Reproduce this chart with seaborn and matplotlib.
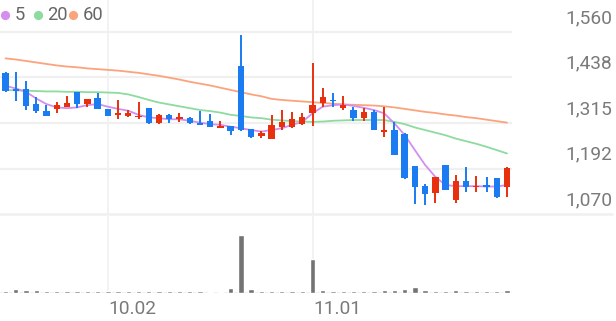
import numpy as np
import pandas as pd
import matplotlib
matplotlib.use("Agg")
import matplotlib.pyplot as plt
from matplotlib.transforms import IdentityTransform
import seaborn as sns

# ---------------- data ----------------
dates = ["09.12", "09.13", "09.19", "09.20", "09.23", "09.24", "09.25", "09.26", "09.27", "09.30",
         "10.02", "10.04", "10.07", "10.08", "10.10", "10.11", "10.14", "10.15", "10.16", "10.17",
         "10.18", "10.21", "10.22", "10.23", "10.24", "10.25", "10.28", "10.29", "10.30", "10.31",
         "11.01", "11.04", "11.05", "11.06", "11.07", "11.08", "11.11", "11.12", "11.13", "11.14",
         "11.15", "11.18", "11.19", "11.20", "11.21", "11.22", "11.25", "11.26", "11.27", "11.28"]
opens = [1450, 1406, 1406, 1366, 1348, 1352, 1359, 1398, 1366, 1382,
         1354, 1336, 1334, 1330, 1355, 1314, 1337, 1327, 1328, 1316,
         1320, 1302, 1307, 1468, 1298, 1280, 1272, 1305, 1303, 1311,
         1341, 1368, 1378, 1355, 1350, 1328, 1344, 1292, 1296, 1285,
         1199, 1145, 1126, 1202, 1108, 1159, 1143, 1148, 1166, 1144]
closes = [1402, 1402, 1361, 1347, 1335, 1364, 1370, 1366, 1380, 1354,
          1334, 1343, 1343, 1334, 1314, 1337, 1325, 1332, 1314, 1309,
          1305, 1307, 1294, 1296, 1276, 1289, 1310, 1318, 1325, 1332,
          1363, 1386, 1374, 1363, 1329, 1344, 1296, 1296, 1229, 1166,
          1143, 1124, 1169, 1135, 1160, 1143, 1146, 1143, 1115, 1195]
highs = [1452, 1453, 1428, 1386, 1363, 1372, 1389, 1398, 1380, 1395,
         1354, 1377, 1350, 1372, 1356, 1339, 1338, 1343, 1330, 1348,
         1338, 1320, 1307, 1552, 1298, 1293, 1337, 1350, 1344, 1343,
         1476, 1409, 1397, 1389, 1359, 1355, 1350, 1359, 1318, 1287,
         1199, 1151, 1170, 1202, 1175, 1196, 1172, 1169, 1167, 1196]
lows = [1398, 1375, 1350, 1341, 1333, 1341, 1359, 1355, 1359, 1354,
        1333, 1325, 1330, 1325, 1313, 1312, 1314, 1318, 1313, 1309,
        1303, 1302, 1283, 1294, 1275, 1274, 1272, 1296, 1301, 1310,
        1308, 1359, 1359, 1350, 1320, 1320, 1296, 1278, 1229, 1165,
        1097, 1094, 1100, 1135, 1099, 1130, 1130, 1130, 1112, 1117]
volumes = [6, 11, 8, 8, 5, 5, 5, 5, 5, 5,
           5, 5, 5, 5, 5, 5, 5, 5, 5, 7,
           4, 4, 14, 171, 11, 6, 6, 6, 6, 6,
           102, 8, 5, 5, 5, 6, 7, 10, 10, 13,
           18, 9, 6, 6, 9, 6, 6, 5, 6, 8]
ma5 = [1415, 1408, 1399, 1381, 1366, 1357, 1355, 1357, 1363, 1366,
       1359, 1353, 1348, 1337, 1330, 1328, 1325, 1325, 1321, 1316,
       1312, 1310, 1305, 1301, 1296, 1292, 1296, 1301, 1310, 1318,
       1341, 1359, 1363, 1365, 1361, 1356, 1350, 1341, 1314, 1283,
       1242, 1202, 1170, 1148, 1145, 1145, 1145, 1144, 1144, 1148]
ma20 = [1404, 1403, 1402, 1401, 1400, 1400, 1399, 1399, 1398, 1398,
        1397, 1396, 1392, 1385, 1377, 1370, 1365, 1360, 1355, 1350,
        1347, 1343, 1337, 1334, 1330, 1328, 1324, 1322, 1320, 1319,
        1318, 1319, 1321, 1322, 1323, 1323, 1323, 1323, 1318, 1312,
        1303, 1296, 1289, 1282, 1273, 1266, 1259, 1251, 1242, 1233]
ma60 = [1489, 1486, 1482, 1478, 1474, 1470, 1467, 1465, 1462, 1460,
        1458, 1456, 1453, 1450, 1446, 1442, 1437, 1432, 1426, 1421,
        1416, 1410, 1404, 1398, 1392, 1387, 1380, 1377, 1375, 1373,
        1371, 1369, 1367, 1365, 1364, 1363, 1362, 1360, 1357, 1353,
        1349, 1345, 1342, 1338, 1335, 1331, 1328, 1324, 1320, 1316]
price_ticks = [1070, 1192, 1315, 1438, 1560]
date_ticks = ["10.02", "11.01"]
ma_labels = ["5", "20", "60"]

# ---------------- style ----------------
sns.set_theme(style="white")
plt.rcParams["font.family"] = ["Roboto", "DejaVu Sans"]

RED = "#e8300f"
BLUE = "#1a7cf0"
MA_COLORS = ["#d48ef0", "#8edb9f", "#fba47c"]
GRID = "#f0f0f0"
TXT = "#7a7a7a"

W, H = 616, 321
fig = plt.figure(figsize=(W / 100, H / 100), dpi=100)

# price panel: x 0..512 px, y 0..214 px from top
ax = fig.add_axes([0, (H - 214) / H, 512 / W, 214 / H])
axv = fig.add_axes([0, (H - 293) / H, 512 / W, 77 / H])

n = len(opens)
idx = np.arange(n)
df = pd.DataFrame({"i": idx, "date": dates, "open": opens, "close": closes,
                   "high": highs, "low": lows, "vol": volumes,
                   "ma5": ma5, "ma20": ma20, "ma60": ma60})

px_per_step = 501.5 / 49
xl = (-5.5 / px_per_step, 49 + 5 / px_per_step)
y_lo = price_ticks[0]
y_hi = y_lo + 214 * (price_ticks[-1] - price_ticks[0]) / 182

# grid lines
for v in price_ticks[1:]:
    ax.axhline(v, color=GRID, lw=1.6, zorder=0)
ax.axhline(price_ticks[0], xmin=0, xmax=612 / 512, color=GRID, lw=1.8, zorder=0, clip_on=False)
for d in date_ticks:
    k = dates.index(d)
    ax.axvline(k, color=GRID, lw=1.2, zorder=0)
    axv.axvline(k, color=GRID, lw=1.2, zorder=0)

# moving averages
for col, c in zip(["ma60", "ma20", "ma5"], MA_COLORS[::-1]):
    sns.lineplot(data=df, x="i", y=col, color=c, lw=1.3, ax=ax, zorder=2)

# candles
up = df["close"] >= df["open"]
colors = np.where(up, RED, BLUE)
ax.vlines(df["i"], df["low"], df["high"], colors=colors, lw=1.4, zorder=3)
body_lo = np.minimum(df["open"], df["close"])
body_h = np.maximum(np.abs(df["close"] - df["open"]), 2.5)
ax.bar(df["i"], body_h, bottom=body_lo, width=0.62, color=colors, zorder=4, linewidth=0)

ax.set_xlim(*xl)
ax.set_ylim(y_lo, y_hi)
ax.set_xlabel("")
ax.set_ylabel("")
ax.set_xticks([])
ax.set_yticks([])
for s in ax.spines.values():
    s.set_visible(False)

# price labels
for v in price_ticks:
    ax.annotate(f"{v:,}", xy=(1, v), xycoords=("axes fraction", "data"),
                xytext=(100, 14), textcoords="offset pixels",
                ha="right", va="center", fontsize=13.8, color=TXT, annotation_clip=False)

# volume panel
sns.barplot(data=df, x="i", y="vol", color="#737373", width=0.52, saturation=1,
            errorbar=None, ax=axv, zorder=3)
axv.axhline(0, color=GRID, lw=1.5, zorder=1)
axv.set_xlim(*xl)
axv.set_ylim(0, max(volumes) * 77 / 57.6)
axv.set_xlabel("")
axv.set_ylabel("")
axv.set_xticks([])
axv.set_yticks([])
for s in axv.spines.values():
    s.set_visible(False)

for d in date_ticks:
    k = dates.index(d)
    axv.annotate(d, xy=(k, 0), xycoords="data", xytext=(1, -16), textcoords="offset pixels",
                 ha="left", va="center", fontsize=13.8, color=TXT, annotation_clip=False)

# legend
leg_x = [5, 37.7, 73.3]
leg_y = H - 15
for lx, lab, c in zip(leg_x, ma_labels, MA_COLORS):
    ax.plot([lx], [leg_y], "o", ms=5.6, color=c, transform=IdentityTransform(), clip_on=False)
    ax.annotate(lab, xy=(lx + 9.5, leg_y), xycoords="figure pixels", ha="left", va="center",
                fontsize=13.2, color="#666666")

fig.savefig("out.png", dpi=100)
